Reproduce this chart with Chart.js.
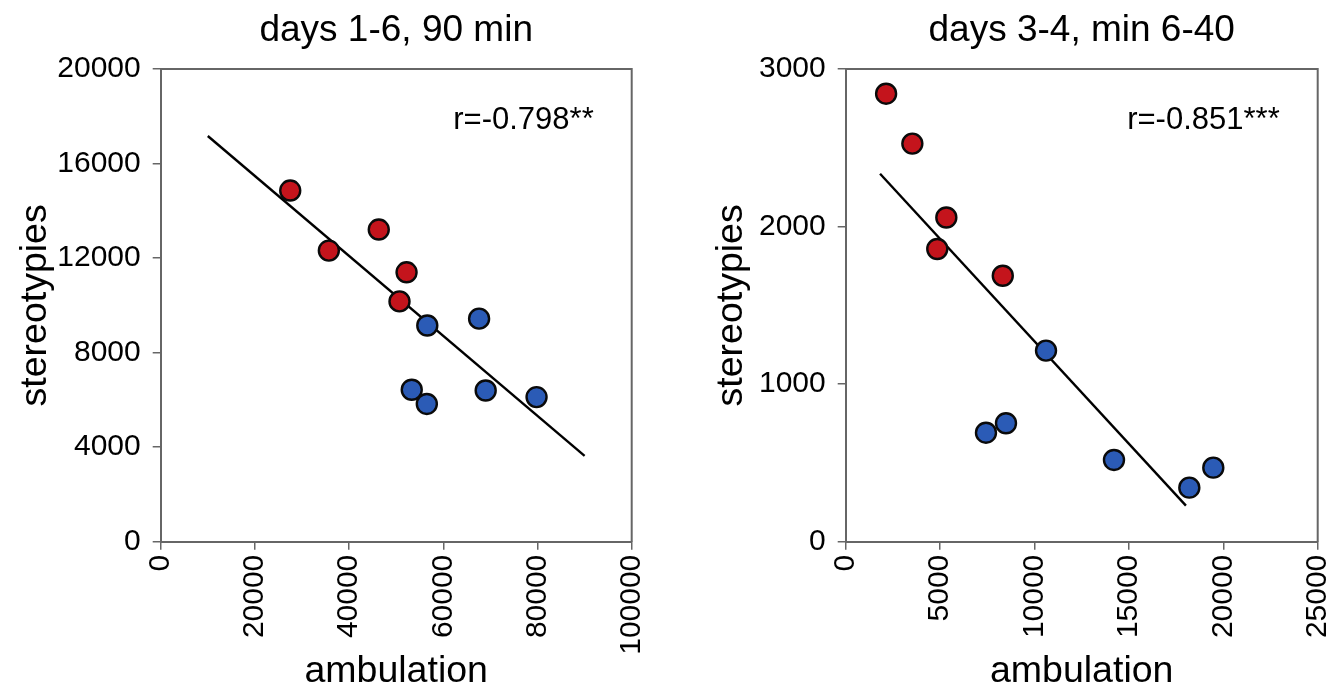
<!DOCTYPE html>
<html><head><meta charset="utf-8">
<script src="https://cdn.jsdelivr.net/npm/chart.js@4.4.1/dist/chart.umd.min.js"></script>
<style>
html,body{margin:0;padding:0;background:#fff;overflow:hidden}
canvas{position:absolute;top:0}
#c1{left:0}
#c2{left:666px}
</style></head><body>
<canvas id="c1" width="666" height="690"></canvas>
<canvas id="c2" width="666" height="690"></canvas>
<script>
// ---- left panel ----
const leftTitle = 'days 1-6, 90 min';
const leftRedX = [27500, 35700, 46300, 52200, 50700];
const leftRedY = [14860, 12320, 13210, 11400, 10170];
const leftBlueX = [56600, 67600, 53300, 56500, 69000, 79800];
const leftBlueY = [9150, 9440, 6430, 5830, 6400, 6120];
const leftFitX = [10000, 90000];
const leftFitY = [17170, 3630];
const leftR = 'r=-0.798**';
const leftXTicks = [0, 20000, 40000, 60000, 80000, 100000];
const leftYTicks = [0, 4000, 8000, 12000, 16000, 20000];

// ---- right panel ----
const rightTitle = 'days 3-4, min 6-40';
const rightRedX = [2140, 3530, 5330, 4850, 8320];
const rightRedY = [2844, 2527, 2058, 1858, 1688];
const rightBlueX = [10610, 7430, 8490, 14210, 18200, 19470];
const rightBlueY = [1213, 692, 752, 519, 343, 470];
const rightFitX = [1820, 18020];
const rightFitY = [2336, 229];
const rightR = 'r=-0.851***';
const rightXTicks = [0, 5000, 10000, 15000, 20000, 25000];
const rightYTicks = [0, 1000, 2000, 3000];

const xTitle = 'ambulation';
const yTitle = 'stereotypies';

const RED = '#c4141c';
const BLUE = '#2b5bb6';
const EDGE = '#0a0a0a';
const AXIS = '#666666';
const TXT = '#000000';
const FONT = "'Liberation Sans', Arial, Helvetica, sans-serif";

const zip = (xs, ys) => xs.map((x, i) => ({x: x, y: ys[i]}));

const framePlugin = {
  id: 'frame',
  afterDraw(chart, args, opts) {
    const {ctx, chartArea: a} = chart;
    ctx.save();
    ctx.strokeStyle = AXIS;
    ctx.lineWidth = 2;
    ctx.beginPath();
    ctx.moveTo(a.left, a.top);
    ctx.lineTo(a.right, a.top);
    ctx.lineTo(a.right, a.bottom);
    ctx.stroke();
    ctx.fillStyle = TXT;
    ctx.font = '31px ' + FONT;
    ctx.textAlign = 'right';
    ctx.textBaseline = 'alphabetic';
    ctx.fillText(opts.text, a.right - 38, a.top + 60);
    ctx.restore();
  }
};

function makeChart(id, c) {
  new Chart(document.getElementById(id), {
    type: 'scatter',
    data: {
      datasets: [
        {data: zip(c.redX, c.redY), backgroundColor: RED, borderColor: EDGE, borderWidth: 2.4,
         pointRadius: 10, pointHoverRadius: 10},
        {data: zip(c.blueX, c.blueY), backgroundColor: BLUE, borderColor: EDGE, borderWidth: 2.4,
         pointRadius: 10, pointHoverRadius: 10},
        {data: zip(c.fitX, c.fitY), showLine: true, borderColor: '#000', borderWidth: 2.4,
         pointRadius: 0, pointHoverRadius: 0, fill: false}
      ]
    },
    options: {
      responsive: false,
      animation: false,
      events: [],
      layout: {padding: {left: 0, right: c.padRight, top: 0, bottom: 0}},
      plugins: {
        legend: {display: false},
        tooltip: {enabled: false},
        title: {display: true, text: c.title, fullSize: false, color: TXT,
                font: {family: FONT, size: 37, weight: 'normal'}, padding: {top: 9, bottom: 16.9 - 1.2}},
        frame: {text: c.r}
      },
      scales: {
        x: {
          type: 'linear', min: c.xTicks[0], max: c.xTicks[c.xTicks.length - 1],
          afterBuildTicks: s => { s.ticks = c.xTicks.map(v => ({value: v})); },
          afterFit: s => { s.height = 148.3; s.paddingLeft = 0; s.paddingRight = 0; },
          ticks: {minRotation: 90, maxRotation: 90, padding: 5, autoSkip: false, color: TXT,
                  font: {family: FONT, size: 30}, callback: v => String(v)},
          grid: {drawOnChartArea: false, tickLength: 8, color: AXIS, lineWidth: 1.5},
          border: {display: true, color: AXIS, width: 2},
          title: {display: true, text: xTitle, color: TXT, font: {family: FONT, size: 37.5},
                  padding: {top: 0, bottom: -4}}
        },
        y: {
          type: 'linear', min: c.yTicks[0], max: c.yTicks[c.yTicks.length - 1],
          afterBuildTicks: s => { s.ticks = c.yTicks.map(v => ({value: v})); },
          afterFit: s => { s.width = c.yWidth; s.paddingTop = 0; s.paddingBottom = 0; },
          ticks: {padding: 12, autoSkip: false, color: TXT,
                  font: {family: FONT, size: 30}, callback: v => String(v)},
          grid: {drawOnChartArea: false, tickLength: 8, color: AXIS, lineWidth: 1.5},
          border: {display: true, color: AXIS, width: 2},
          title: {display: true, text: yTitle, color: TXT, font: {family: FONT, size: 37.5},
                  padding: {top: c.yTitlePad, bottom: 0}}
        }
      }
    },
    plugins: [framePlugin]
  });
}

makeChart('c1', {
  title: leftTitle, r: leftR, redX: leftRedX, redY: leftRedY, blueX: leftBlueX, blueY: leftBlueY,
  fitX: leftFitX, fitY: leftFitY, xTicks: leftXTicks, yTicks: leftYTicks,
  padRight: 34.3, yWidth: 160.7, yTitlePad: 13
});
makeChart('c2', {
  title: rightTitle, r: rightR, redX: rightRedX, redY: rightRedY, blueX: rightBlueX, blueY: rightBlueY,
  fitX: rightFitX, fitY: rightFitY, xTicks: rightXTicks, yTicks: rightYTicks,
  padRight: 14.3, yWidth: 179.7, yTitlePad: 43
});
</script>
</body></html>
